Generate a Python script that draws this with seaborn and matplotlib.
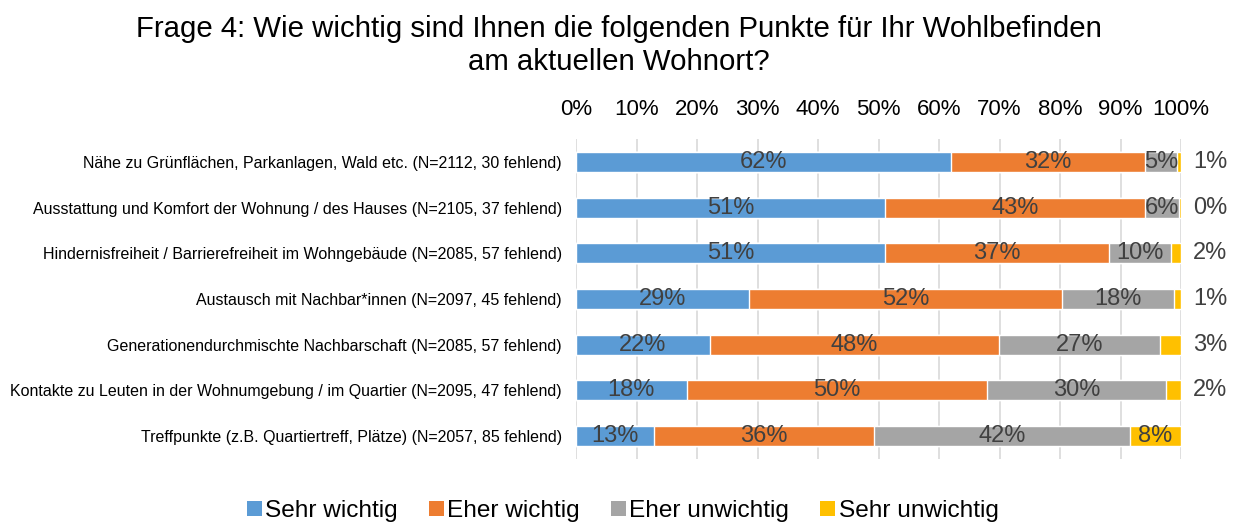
import matplotlib
matplotlib.use("Agg")
import matplotlib.pyplot as plt
from matplotlib.patches import Patch
import seaborn as sns
import numpy as np
import pandas as pd

categories = [
    "Nähe zu Grünflächen, Parkanlagen, Wald etc. (N=2112, 30 fehlend)",
    "Ausstattung und Komfort der Wohnung / des Hauses (N=2105, 37 fehlend)",
    "Hindernisfreiheit / Barrierefreiheit im Wohngebäude (N=2085, 57 fehlend)",
    "Austausch mit Nachbar*innen (N=2097, 45 fehlend)",
    "Generationendurchmischte Nachbarschaft (N=2085, 57 fehlend)",
    "Kontakte zu Leuten in der Wohnumgebung / im Quartier (N=2095, 47 fehlend)",
    "Treffpunkte (z.B. Quartiertreff, Plätze) (N=2057, 85 fehlend)",
]
sehr_wichtig = [62.0, 51.1, 51.1, 28.6, 22.1, 18.3, 12.9]
eher_wichtig = [32.0, 42.9, 37.0, 51.8, 47.8, 49.7, 36.3]
eher_unwichtig = [5.4, 5.7, 10.2, 18.4, 26.7, 29.6, 42.4]
sehr_unwichtig = [0.6, 0.3, 1.7, 1.2, 3.4, 2.4, 8.4]
series_names = ["Sehr wichtig", "Eher wichtig", "Eher unwichtig", "Sehr unwichtig"]
x_ticks = [0, 10, 20, 30, 40, 50, 60, 70, 80, 90, 100]
title = "Frage 4: Wie wichtig sind Ihnen die folgenden Punkte für Ihr Wohlbefinden\nam aktuellen Wohnort?"

colors = ["#5B9BD5", "#ED7D31", "#A5A5A5", "#FFC000"]
label_color = "#404040"

sns.set_theme(style="white")
plt.rcParams["font.family"] = ["Liberation Sans", "DejaVu Sans"]

series = [sehr_wichtig, eher_wichtig, eher_unwichtig, sehr_unwichtig]
vals = np.array(series)            # shape (4, 7)
cum = np.cumsum(vals, axis=0)

fig = plt.figure(figsize=(12.38, 5.22), dpi=100)
ax = fig.add_axes([576 / 1238, 1 - 459 / 522, (1181 - 576) / 1238, 320 / 522])

# draw cumulative layers from the outermost inwards
for i in reversed(range(4)):
    df = pd.DataFrame({"cat": categories, "value": cum[i]})
    sns.barplot(data=df, x="value", y="cat", orient="h", color=colors[i],
                saturation=1, width=0.44, ax=ax, zorder=3)

ax.set_xlim(0, 100)
ax.set_ylim(6.5, -0.5)
ax.set_xticks(x_ticks)
ax.set_xticklabels([f"{t}%" for t in x_ticks], fontsize=16, color="black")
ax.xaxis.tick_top()
ax.tick_params(axis="x", length=0, pad=14)
ax.tick_params(axis="y", length=0, pad=10, labelsize=11.5, labelcolor="black")
ax.set_xlabel("")
ax.set_ylabel("")
ax.grid(axis="x", color="#D9D9D9", linewidth=1.2, zorder=0)
ax.grid(axis="y", visible=False)
for s in ax.spines.values():
    s.set_visible(False)

# data labels
for r in range(len(categories)):
    for i in range(4):
        v = vals[i, r]
        start = cum[i, r] - v
        txt = f"{int(round(v))}%"
        if i == 3 and v < 5:
            ax.text(102.0, r, txt, ha="left", va="center", fontsize=17,
                    color=label_color, clip_on=False, zorder=5)
        else:
            ax.text(start + v / 2, r, txt, ha="center", va="center",
                    fontsize=17, color=label_color, zorder=5)

fig.suptitle(title, x=0.5, y=1 - 15 / 522, va="top", fontsize=21.2,
             color="black", linespacing=1.22)

handles = [Patch(facecolor=c, edgecolor="none", label=n) for c, n in zip(colors, series_names)]
fig.legend(handles=handles, loc="lower center", bbox_to_anchor=(0.503, -0.042), ncol=4,
           frameon=False, fontsize=17.6, handlelength=0.6, handleheight=0.6,
           handletextpad=0.15, columnspacing=1.27, labelcolor="black")

fig.savefig("out.png", dpi=100)
